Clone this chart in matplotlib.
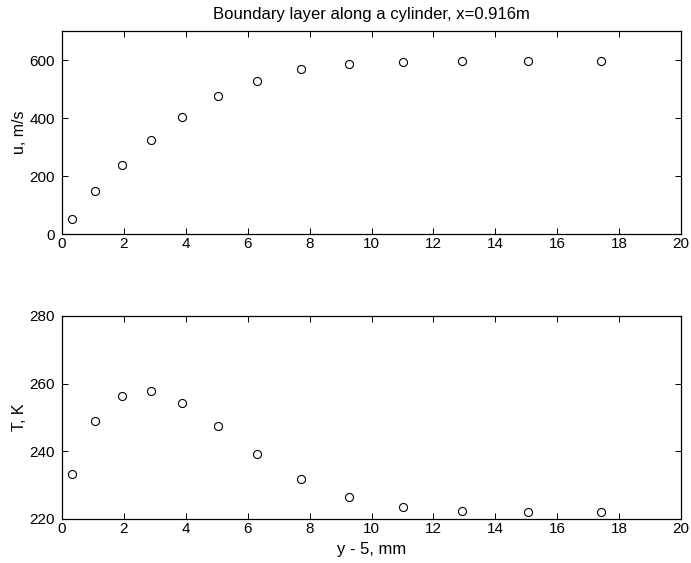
import matplotlib
matplotlib.use("Agg")
import matplotlib.pyplot as plt

x_mm = [0.33, 1.08, 1.94, 2.86, 3.89, 5.04, 6.31, 7.72, 9.28, 11.02, 12.94, 15.06, 17.42]
u_ms = [52, 149, 238, 325, 405, 475, 529, 568, 586, 594, 597, 598, 598]
T_K = [233.3, 248.9, 256.3, 257.9, 254.4, 247.6, 239.3, 231.7, 226.4, 223.6, 222.5, 222.2, 222.0]

x_ticks = [0, 2, 4, 6, 8, 10, 12, 14, 16, 18, 20]
u_ticks = [0, 200, 400, 600]
T_ticks = [220, 240, 260, 280]

plt.rcParams['font.family'] = ['Liberation Sans', 'DejaVu Sans']
plt.rcParams['font.size'] = 11

W, H = 691, 563
fig = plt.figure(figsize=(W / 100, H / 100), dpi=100)

def style(ax):
    ax.tick_params(direction='in', top=True, right=True, length=4.5, width=0.7,
                   labelsize=11, colors='black')
    ax.tick_params(axis='x', pad=2.5)
    ax.tick_params(axis='y', pad=5)
    for s in ax.spines.values():
        s.set_linewidth(0.9)
        s.set_color('black')

ax1 = fig.add_axes([62 / W, 1 - 234 / H, 619 / W, 203 / H])
ax1.plot(x_mm, u_ms, linestyle='none', marker='o', markersize=5.8,
         markerfacecolor='none', markeredgecolor='black', markeredgewidth=0.8)
ax1.set_xlim(0, 20)
ax1.set_ylim(0, 700)
ax1.set_xticks(x_ticks)
ax1.set_yticks(u_ticks)
ax1.set_ylabel('u, m/s', fontsize=11.5, labelpad=1.5)
ax1.set_title('Boundary layer along a cylinder, x=0.916m', fontsize=12, pad=9)
style(ax1)

ax2 = fig.add_axes([62 / W, 1 - 519 / H, 619 / W, 203 / H])
ax2.plot(x_mm, T_K, linestyle='none', marker='o', markersize=5.8,
         markerfacecolor='none', markeredgecolor='black', markeredgewidth=0.8)
ax2.set_xlim(0, 20)
ax2.set_ylim(220, 280)
ax2.set_xticks(x_ticks)
ax2.set_yticks(T_ticks)
ax2.set_ylabel('T, K', fontsize=11.5, labelpad=1.5)
ax2.set_xlabel('y - 5, mm', fontsize=12, labelpad=4)
style(ax2)

fig.savefig('out.png', dpi=100)
